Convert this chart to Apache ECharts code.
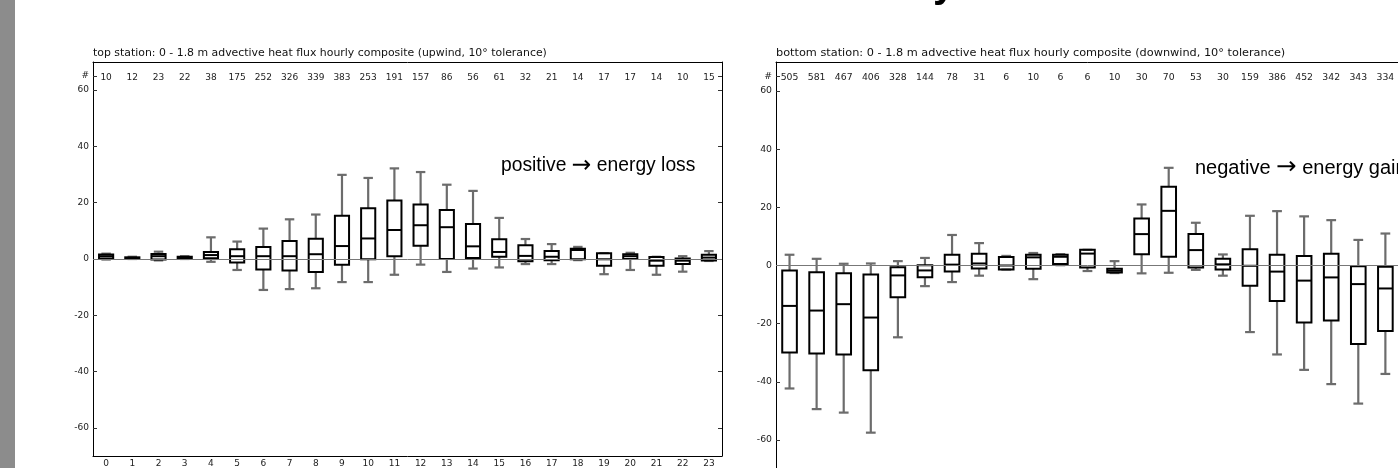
<!DOCTYPE html>
<html>
<head>
<meta charset="utf-8">
<script src="https://cdn.jsdelivr.net/npm/echarts@6/dist/echarts.min.js"></script>
<style>
html,body{margin:0;padding:0;background:#fff;}
#c{width:1398px;height:468px;}
</style>
</head>
<body>
<div id="c"></div>
<script>
// ---------- data ----------
const hours = ['0','1','2','3','4','5','6','7','8','9','10','11','12','13','14','15','16','17','18','19','20','21','22','23'];
const topCounts = [10,12,23,22,38,175,252,326,339,383,253,191,157,86,56,61,32,21,14,17,17,14,10,15];
const bottomCounts = [505,581,467,406,328,144,78,31,6,10,6,6,10,30,70,53,30,159,386,452,342,343,334];
const yTickValues = [-60,-40,-20,0,20,40,60,65];

// top station (upwind) box statistics per hour
const topLow  = [-0.2, 0.0,-0.5, 0.0,-1.0,-3.9,-11.0,-10.7,-10.4,-8.2,-8.2,-5.6,-2.0,-4.6,-3.4,-3.0,-1.8,-1.8,-0.4,-5.4,-3.9,-5.6,-4.5,-0.7];
const topQ1   = [ 0.2, 0.1,-0.2, 0.1, 0.3,-1.2,-3.7,-4.1,-4.6,-2.0,-0.1, 1.0, 4.7, 0.0, 0.35, 0.8,-0.8,-0.4,-0.1,-2.4, 0.0,-2.4,-1.8,-0.5];
const topMed  = [ 1.0, 0.3, 1.0, 0.4, 1.4, 1.0, 1.0, 1.0, 1.7, 4.6, 7.3,10.3,12.0,11.3, 4.5, 2.5, 1.1, 0.8, 3.2,-0.1, 1.0,-0.6,-0.6, 0.5];
const topQ3   = [ 1.6, 0.6, 1.8, 0.8, 2.5, 3.5, 4.3, 6.4, 7.2,15.4,18.0,20.8,19.4,17.4,12.4, 7.0, 4.9, 2.8, 3.6, 2.0, 1.7, 0.7, 0.2, 1.5];
const topHigh = [ 1.9, 0.8, 2.6, 1.0, 7.7, 6.2,10.8,14.1,15.8,29.9,28.8,32.2,30.9,26.4,24.2,14.6, 7.1, 5.3, 4.3, 2.1, 2.2, 0.8, 1.0, 2.8];

// bottom station (downwind) box statistics per hour (hour 23 lies outside the picture)
const botLow  = [-42.3,-49.4,-50.6,-57.5,-24.7,-7.1,-5.7,-3.5,-1.4,-4.7, 0.1,-1.9,-2.6,-2.7,-2.5,-1.5,-3.5,-22.9,-30.6,-35.9,-40.8,-47.5,-37.3];
const botQ1   = [-29.9,-30.3,-30.6,-36.0,-10.9,-4.0,-2.1,-1.0,-1.4,-1.1, 0.5,-0.7,-2.4, 3.9, 3.0,-0.7,-1.4, -7.0,-12.2,-19.6,-18.9,-27.0,-22.5];
const botMed  = [-13.9,-15.5,-13.3,-17.9, -3.4,-1.7, 0.3, 0.7, 0.0, 2.8, 3.0, 4.1,-1.8,10.8,18.8, 5.3, 0.4, -0.1, -2.1, -5.2, -4.1, -6.4, -7.9];
const botQ3   = [ -1.7, -2.3, -2.7, -3.1, -0.6, 0.1, 3.7, 4.0, 2.9, 3.7, 3.7, 5.4,-1.1,16.2,27.1,10.8, 2.3,  5.6,  3.7,  3.3,  4.0, -0.3, -0.4];
const botHigh = [  3.7,  2.3,  0.6,  0.7,  1.5, 2.6,10.5, 7.7, 3.3, 4.3, 3.9, 5.4, 1.5,21.0,33.6,14.7, 3.8, 17.1, 18.7, 16.9, 15.6,  8.8, 11.0];

const topTitle = 'top station: 0 - 1.8 m advective heat flux hourly composite (upwind, 10° tolerance)';
const botTitle = 'bottom station: 0 - 1.8 m advective heat flux hourly composite (downwind, 10° tolerance)';

// ---------- build ----------
function rows(lo, q1, me, q3, hi) {
  return lo.map((v, i) => [i, lo[i], q1[i], me[i], q3[i], hi[i]]);
}
const FONT = 'DejaVu Sans';
const WHISK = '#6c6c6c';

function renderBox(params, api) {
  const x = api.value(0);
  const band = api.size([1, 0])[0];
  const bw = band * 0.54, cw = band * 0.36;
  const pLo = api.coord([x, api.value(1)]);
  const pQ1 = api.coord([x, api.value(2)]);
  const pMe = api.coord([x, api.value(3)]);
  const pQ3 = api.coord([x, api.value(4)]);
  const pHi = api.coord([x, api.value(5)]);
  const cx = pMe[0];
  const wStyle = {stroke: WHISK, lineWidth: 2.2, fill: null};
  const bStyle = {stroke: '#000', lineWidth: 2, fill: null};
  return {
    type: 'group',
    children: [
      {type: 'line', shape: {x1: cx, y1: pQ3[1], x2: cx, y2: pHi[1]}, style: wStyle},
      {type: 'line', shape: {x1: cx, y1: pQ1[1], x2: cx, y2: pLo[1]}, style: wStyle},
      {type: 'line', shape: {x1: cx - cw/2, y1: pHi[1], x2: cx + cw/2, y2: pHi[1]}, style: wStyle},
      {type: 'line', shape: {x1: cx - cw/2, y1: pLo[1], x2: cx + cw/2, y2: pLo[1]}, style: wStyle},
      {type: 'rect', shape: {x: cx - bw/2, y: pQ3[1], width: bw, height: pQ1[1] - pQ3[1]}, style: bStyle},
      {type: 'line', shape: {x1: cx - bw/2, y1: pMe[1], x2: cx + bw/2, y2: pMe[1]}, style: {stroke: '#000', lineWidth: 2}}
    ]
  };
}

function panelAxes(gi, counts, fs, withRight) {
  const xs = [
    {type: 'category', gridIndex: gi, data: hours, position: 'bottom', boundaryGap: true,
     axisLine: {onZero: false, lineStyle: {color: '#000', width: 1}},
     axisTick: {alignWithLabel: true, inside: true, length: 4, lineStyle: {color: '#333'}},
     axisLabel: {interval: 0, fontSize: fs, fontFamily: FONT, color: '#222', margin: 3}},
    {type: 'category', gridIndex: gi, data: hours, position: 'top', boundaryGap: true,
     axisLine: {onZero: false, lineStyle: {color: '#000', width: 1}},
     axisTick: {alignWithLabel: true, inside: true, length: 4, lineStyle: {color: '#333'}},
     axisLabel: {inside: true, interval: 0, fontSize: fs, fontFamily: FONT, color: '#222', margin: 11,
       formatter: (v, i) => (counts[i] === undefined ? '' : String(counts[i]))}}
  ];
  const ys = [
    {type: 'value', gridIndex: gi, min: -70, max: 70, position: 'left',
     axisLine: {show: true, onZero: false, lineStyle: {color: '#000', width: 1}},
     splitLine: {show: false},
     axisTick: {show: true, inside: true, length: 4, customValues: yTickValues, lineStyle: {color: '#333'}},
     axisLabel: {customValues: yTickValues, fontSize: fs, fontFamily: FONT, color: '#222', margin: 4,
       formatter: v => (v === 65 ? '#' : String(v))}}
  ];
  if (withRight) {
    ys.push({type: 'value', gridIndex: gi, min: -70, max: 70, position: 'right',
     axisLine: {show: true, onZero: false, lineStyle: {color: '#000', width: 1}},
     splitLine: {show: false},
     axisTick: {show: true, inside: true, length: 4, customValues: yTickValues, lineStyle: {color: '#333'}},
     axisLabel: {show: false}});
  }
  return {xs, ys};
}

const a0 = panelAxes(0, topCounts, 9, true);
const a1 = panelAxes(1, bottomCounts, 9.3, false);

function zeroLine(xi, yi) {
  return {type: 'line', xAxisIndex: xi, yAxisIndex: yi, data: [], z: 1, silent: true,
    markLine: {silent: true, symbol: 'none', label: {show: false},
      lineStyle: {color: '#777', width: 1, type: 'solid'}, data: [{yAxis: 0}]}};
}

function note(words, fs) {
  return {
    text: '{a|' + words[0] + ' }{b|→}{a| ' + words[1] + '}',
    rich: {
      a: {fontSize: fs, fontFamily: 'Liberation Sans', fill: '#000', color: '#000'},
      b: {fontSize: fs * 1.22, fontFamily: 'DejaVu Sans', fill: '#000', color: '#000'}
    },
    textVerticalAlign: 'middle', textAlign: 'left'
  };
}

const option = {
  animation: false,
  backgroundColor: '#fff',
  title: [
    {text: topTitle, left: 93, top: 48, padding: 0,
     textStyle: {fontSize: 10.9, fontWeight: 'normal', fontFamily: FONT, color: '#111'}},
    {text: botTitle, left: 776, top: 48, padding: 0,
     textStyle: {fontSize: 11.3, fontWeight: 'normal', fontFamily: FONT, color: '#111'}}
  ],
  grid: [
    {left: 93, top: 62, width: 629, height: 394, outerBoundsMode: 'none', containLabel: false},
    {left: 776, top: 62, width: 650, height: 407, outerBoundsMode: 'none', containLabel: false}
  ],
  xAxis: a0.xs.concat(a1.xs),
  yAxis: a0.ys.concat(a1.ys),
  series: [
    zeroLine(0, 0),
    zeroLine(2, 2),
    {type: 'custom', xAxisIndex: 0, yAxisIndex: 0, z: 2, clip: true,
     renderItem: renderBox, encode: {x: 0, y: [1, 2, 3, 4, 5]},
     data: rows(topLow, topQ1, topMed, topQ3, topHigh)},
    {type: 'custom', xAxisIndex: 2, yAxisIndex: 2, z: 2, clip: true,
     renderItem: renderBox, encode: {x: 0, y: [1, 2, 3, 4, 5]},
     data: rows(botLow, botQ1, botMed, botQ3, botHigh)}
  ],
  graphic: [
    {type: 'rect', left: 0, top: 0, shape: {width: 15, height: 468}, style: {fill: '#8c8c8c'}, silent: true},
    // blank strip at the cut right edge of the downwind panel
    {type: 'rect', x: 1393.6, y: 64, z: 0.5, shape: {width: 6, height: 404}, style: {fill: '#fff'}, silent: true},
    {type: 'text', x: 501, y: 166, z: 5, style: note(['positive', 'energy loss'], 19.3)},
    {type: 'text', x: 1195, y: 168, z: 5, style: note(['negative', 'energy gain'], 20)},
    {type: 'text', x: 933, y: 6, z: 5, style: {text: 'y', fontSize: 40, fontWeight: 'bold',
      fontFamily: 'Liberation Sans', fill: '#000', textVerticalAlign: 'bottom', textAlign: 'left'}}
  ]
};

const chart = echarts.init(document.getElementById('c'), null, {renderer: 'canvas'});
chart.setOption(option);
</script>
</body>
</html>
